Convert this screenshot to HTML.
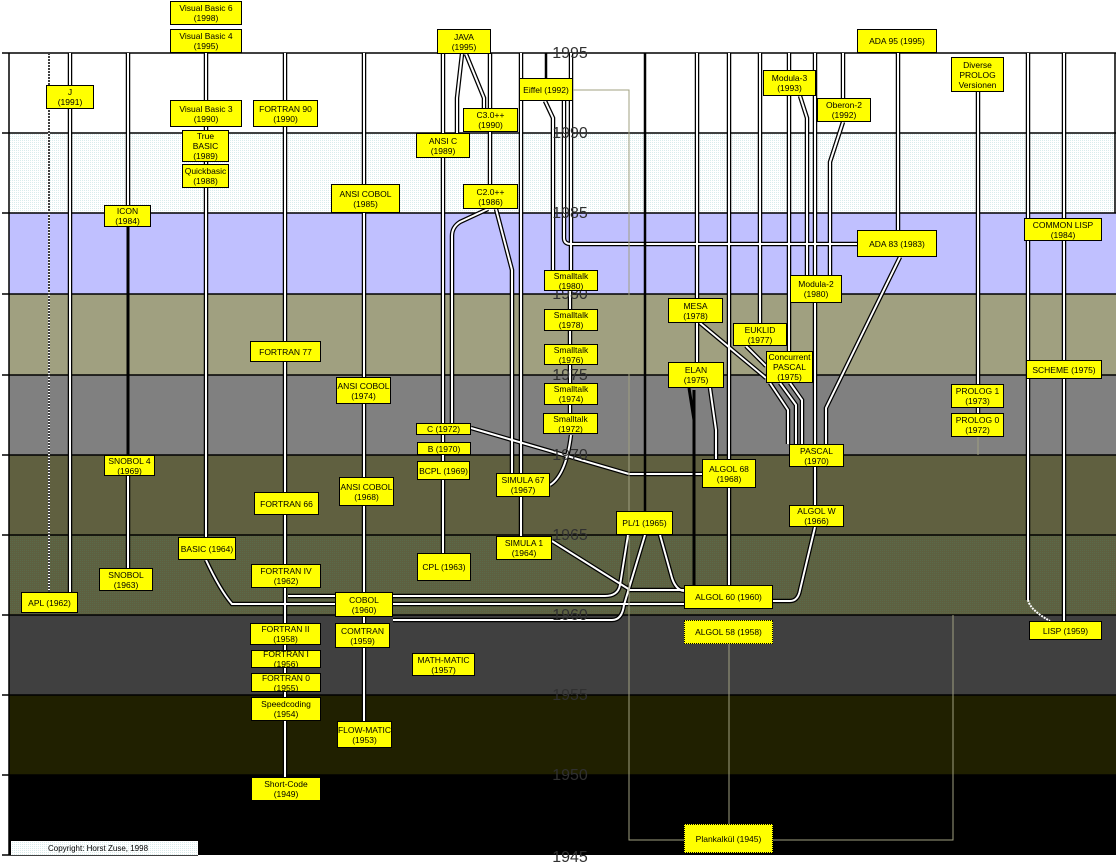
<!DOCTYPE html>
<html><head><meta charset="utf-8"><style>
body{margin:0;width:1116px;height:866px;overflow:hidden;background:#fff;position:relative;font-family:"Liberation Sans",Arial,sans-serif}
svg{position:absolute;left:0;top:0}
.b{position:absolute;background:#ff0;border:1px solid #000;box-sizing:border-box;display:flex;align-items:center;justify-content:center;text-align:center;font-size:8.5px;line-height:10px;color:#000;white-space:nowrap;overflow:hidden}
.d{border:1px dotted #000}
</style></head><body>
<svg width="1116" height="866">
<defs>
<pattern id="dt1" width="2" height="2" patternUnits="userSpaceOnUse"><rect width="2" height="2" fill="#fff"/><rect width="1" height="1" fill="#d8ecec"/></pattern>
<pattern id="dt2" width="2" height="2" patternUnits="userSpaceOnUse"><rect width="2" height="2" fill="#5e6040"/><rect width="1" height="1" fill="#5a6a4a"/></pattern>
<g id="p">
<path d="M70 53V592"/>
<path d="M128 53V205M128 476V568"/>
<path d="M206 53V537"/>
<path d="M206 560Q220 590 232 604H335"/>
<path d="M288 596H335M393 596H605Q618 596 620 585L628 535"/>
<path d="M393 604H684"/>
<path d="M393 620H612Q622 620 624 605L645 535"/>
<path d="M660 535L672 578Q676 590 684 591"/>
<path d="M552 541L630 590H684"/>
<path d="M285 53V623M285 645V777"/>
<path d="M364 53V592M364 616V721"/>
<path d="M443 53V133M443 158V553"/>
<path d="M488 209L460 222Q452 227 452 236V423"/>
<path d="M462 54L457 98V133"/>
<path d="M466 54L484 98V108"/>
<path d="M490 53V108M490 132V184"/>
<path d="M496 209L512 270V473"/>
<path d="M521 53V473M521 497V536"/>
<path d="M571 435Q566 475 550 485"/>
<path d="M571 53V270M570 291V413"/>
<path d="M545 101L553 118V270"/>
<path d="M564 101V238Q564 244 571 244H857"/>
<path d="M471 428L629 474H702"/>
<path d="M697 53V298M697 323V362"/>
<path d="M729 53V459M729 488V585"/>
<path d="M710 388L716 430V459"/>
<path d="M773 601H790Q798 601 800 590L815 527"/>
<path d="M815 53V275M815 303V505"/>
<path d="M789 53V351"/>
<path d="M760 53V323"/>
<path d="M843 53V98"/>
<path d="M770 383L788 410V444M780 383L796 405V444M790 383L802 400V444"/>
<path d="M700 323L766 378M746 346L766 366"/>
<path d="M800 96L807 118V275"/>
<path d="M843 122L830 162V275"/>
<path d="M900 257L826 408V444"/>
<path d="M898 53V230"/>
<path d="M978 92V384M978 408V413"/>
<path d="M1028 53V218M1028 241V600"/>
<path d="M1064 53V621"/>
</g>
</defs>
<rect x="9" y="53" width="1107" height="80" fill="#fff"/>
<rect x="9" y="133" width="1107" height="80" fill="url(#dt1)"/>
<rect x="9" y="213" width="1107" height="81" fill="#c0c0ff"/>
<rect x="9" y="294" width="1107" height="81" fill="#a0a080"/>
<rect x="9" y="375" width="1107" height="80" fill="#808080"/>
<rect x="9" y="455" width="1107" height="80" fill="#606040"/>
<rect x="9" y="535" width="1107" height="80" fill="url(#dt2)"/>
<rect x="9" y="615" width="1107" height="80" fill="#404040"/>
<rect x="9" y="695" width="1107" height="80" fill="#202000"/>
<rect x="9" y="775" width="1107" height="80" fill="#000"/>
<g stroke="#000" stroke-width="1.5">
<path d="M2 53H1116M2 133H1116M2 213H1116M2 294H1116M2 375H1116M2 455H1116M2 535H1116M2 615H1116M2 695H1116M2 775H1116M2 855H198"/>
<path d="M9 53V855M1115 53V213"/>
</g>
<use href="#p" stroke="#000" stroke-width="4.5" fill="none"/>
<use href="#p" stroke="#fff" stroke-width="2" fill="none"/>
<path d="M49 53V592" stroke="#fff" stroke-width="2"/><path d="M49 53V592" stroke="#000" stroke-width="1.5" stroke-dasharray="2 1"/>
<path d="M128 227V455" stroke="#000" stroke-width="3"/>
<path d="M645 53V511M546 53V78" stroke="#000" stroke-width="2.5"/>
<path d="M694 390V585" stroke="#000" stroke-width="3"/>
<path d="M689 388L694 420" stroke="#000" stroke-width="3"/>
<path d="M573 90H629V840H684M773 840H953V615M729 644V824M978 437V455" stroke="#a0a080" stroke-width="1" fill="none"/>
<path d="M1028 600Q1030 610 1050 621" stroke="#fff" stroke-width="2" stroke-dasharray="2 1" fill="none"/>
<g font-family="Liberation Sans,Arial,sans-serif" font-size="16" fill="#303030" text-anchor="middle">
<text x="570" y="58">1995</text><text x="570" y="138">1990</text><text x="570" y="218">1985</text><text x="570" y="299">1980</text><text x="570" y="380">1975</text><text x="570" y="460">1970</text><text x="570" y="540">1965</text><text x="570" y="620">1960</text><text x="570" y="700">1955</text><text x="570" y="780">1950</text><text x="570" y="862">1945</text>
</g>
<rect x="11" y="841" width="187" height="14" fill="url(#dt1)"/>
<text x="98" y="851" font-family="Liberation Sans,Arial,sans-serif" font-size="8" text-anchor="middle">Copyright: Horst Zuse, 1998</text>
</svg>
<div class="b" style="left:170px;top:1px;width:72px;height:24px">Visual Basic 6<br>(1998)</div>
<div class="b" style="left:170px;top:29px;width:72px;height:24px">Visual Basic 4<br>(1995)</div>
<div class="b" style="left:46px;top:85px;width:48px;height:24px">J<br>(1991)</div>
<div class="b" style="left:170px;top:100px;width:72px;height:27px">Visual Basic 3<br>(1990)</div>
<div class="b" style="left:253px;top:100px;width:65px;height:27px">FORTRAN 90<br>(1990)</div>
<div class="b" style="left:182px;top:130px;width:47px;height:32px">True<br>BASIC<br>(1989)</div>
<div class="b" style="left:182px;top:164px;width:47px;height:24px">Quickbasic<br>(1988)</div>
<div class="b" style="left:331px;top:184px;width:69px;height:29px">ANSI COBOL<br>(1985)</div>
<div class="b" style="left:104px;top:205px;width:47px;height:22px">ICON<br>(1984)</div>
<div class="b" style="left:437px;top:29px;width:54px;height:25px">JAVA<br>(1995)</div>
<div class="b" style="left:463px;top:108px;width:55px;height:24px">C3.0++<br>(1990)</div>
<div class="b" style="left:416px;top:133px;width:54px;height:25px">ANSI C<br>(1989)</div>
<div class="b" style="left:463px;top:184px;width:55px;height:25px">C2.0++<br>(1986)</div>
<div class="b" style="left:519px;top:78px;width:54px;height:23px">Eiffel (1992)</div>
<div class="b" style="left:763px;top:70px;width:53px;height:26px">Modula-3<br>(1993)</div>
<div class="b" style="left:817px;top:98px;width:54px;height:24px">Oberon-2<br>(1992)</div>
<div class="b" style="left:857px;top:29px;width:80px;height:24px">ADA 95 (1995)</div>
<div class="b" style="left:951px;top:57px;width:53px;height:35px">Diverse<br>PROLOG<br>Versionen</div>
<div class="b" style="left:1024px;top:218px;width:78px;height:23px">COMMON LISP<br>(1984)</div>
<div class="b" style="left:857px;top:230px;width:80px;height:27px">ADA 83 (1983)</div>
<div class="b" style="left:544px;top:270px;width:54px;height:21px">Smalltalk<br>(1980)</div>
<div class="b" style="left:790px;top:275px;width:52px;height:28px">Modula-2<br>(1980)</div>
<div class="b" style="left:668px;top:298px;width:55px;height:25px">MESA<br>(1978)</div>
<div class="b" style="left:544px;top:309px;width:54px;height:22px">Smalltalk<br>(1978)</div>
<div class="b" style="left:733px;top:323px;width:54px;height:23px">EUKLID<br>(1977)</div>
<div class="b" style="left:250px;top:341px;width:71px;height:21px">FORTRAN 77</div>
<div class="b" style="left:544px;top:344px;width:54px;height:21px">Smalltalk<br>(1976)</div>
<div class="b" style="left:766px;top:351px;width:47px;height:32px">Concurrent<br>PASCAL<br>(1975)</div>
<div class="b" style="left:1026px;top:360px;width:76px;height:19px">SCHEME (1975)</div>
<div class="b" style="left:668px;top:362px;width:56px;height:26px">ELAN<br>(1975)</div>
<div class="b" style="left:336px;top:377px;width:55px;height:27px">ANSI COBOL<br>(1974)</div>
<div class="b" style="left:544px;top:383px;width:54px;height:22px">Smalltalk<br>(1974)</div>
<div class="b" style="left:951px;top:384px;width:53px;height:24px">PROLOG 1<br>(1973)</div>
<div class="b" style="left:543px;top:413px;width:55px;height:21px">Smalltalk<br>(1972)</div>
<div class="b" style="left:951px;top:413px;width:53px;height:24px">PROLOG 0<br>(1972)</div>
<div class="b" style="left:416px;top:423px;width:55px;height:12px">C (1972)</div>
<div class="b" style="left:417px;top:442px;width:54px;height:13px">B (1970)</div>
<div class="b" style="left:789px;top:444px;width:55px;height:23px">PASCAL<br>(1970)</div>
<div class="b" style="left:104px;top:455px;width:51px;height:21px">SNOBOL 4<br>(1969)</div>
<div class="b" style="left:417px;top:461px;width:53px;height:19px">BCPL (1969)</div>
<div class="b" style="left:702px;top:459px;width:54px;height:29px">ALGOL 68<br>(1968)</div>
<div class="b" style="left:496px;top:473px;width:54px;height:24px">SIMULA 67<br>(1967)</div>
<div class="b" style="left:339px;top:477px;width:55px;height:29px">ANSI COBOL<br>(1968)</div>
<div class="b" style="left:254px;top:492px;width:65px;height:23px">FORTRAN 66</div>
<div class="b" style="left:789px;top:505px;width:55px;height:22px">ALGOL W<br>(1966)</div>
<div class="b" style="left:616px;top:511px;width:57px;height:24px">PL/1 (1965)</div>
<div class="b" style="left:178px;top:537px;width:58px;height:23px">BASIC (1964)</div>
<div class="b" style="left:496px;top:536px;width:56px;height:24px">SIMULA 1<br>(1964)</div>
<div class="b" style="left:417px;top:553px;width:54px;height:28px">CPL (1963)</div>
<div class="b" style="left:251px;top:564px;width:70px;height:24px">FORTRAN IV<br>(1962)</div>
<div class="b" style="left:99px;top:568px;width:54px;height:23px">SNOBOL<br>(1963)</div>
<div class="b" style="left:684px;top:585px;width:89px;height:24px">ALGOL 60 (1960)</div>
<div class="b" style="left:335px;top:592px;width:58px;height:25px">COBOL<br>(1960)</div>
<div class="b" style="left:21px;top:592px;width:57px;height:21px">APL (1962)</div>
<div class="b d" style="left:684px;top:620px;width:89px;height:24px">ALGOL 58 (1958)</div>
<div class="b" style="left:1029px;top:621px;width:73px;height:19px">LISP (1959)</div>
<div class="b" style="left:250px;top:623px;width:71px;height:22px">FORTRAN II<br>(1958)</div>
<div class="b" style="left:335px;top:623px;width:55px;height:25px">COMTRAN<br>(1959)</div>
<div class="b" style="left:251px;top:650px;width:70px;height:18px">FORTRAN I<br>(1956)</div>
<div class="b" style="left:412px;top:653px;width:63px;height:23px">MATH-MATIC<br>(1957)</div>
<div class="b" style="left:251px;top:673px;width:70px;height:19px">FORTRAN 0<br>(1955)</div>
<div class="b" style="left:251px;top:697px;width:70px;height:24px">Speedcoding<br>(1954)</div>
<div class="b" style="left:337px;top:721px;width:55px;height:27px">FLOW-MATIC<br>(1953)</div>
<div class="b" style="left:251px;top:777px;width:70px;height:24px">Short-Code<br>(1949)</div>
<div class="b d" style="left:684px;top:824px;width:89px;height:29px">Plankalkül (1945)</div>
</body></html>
